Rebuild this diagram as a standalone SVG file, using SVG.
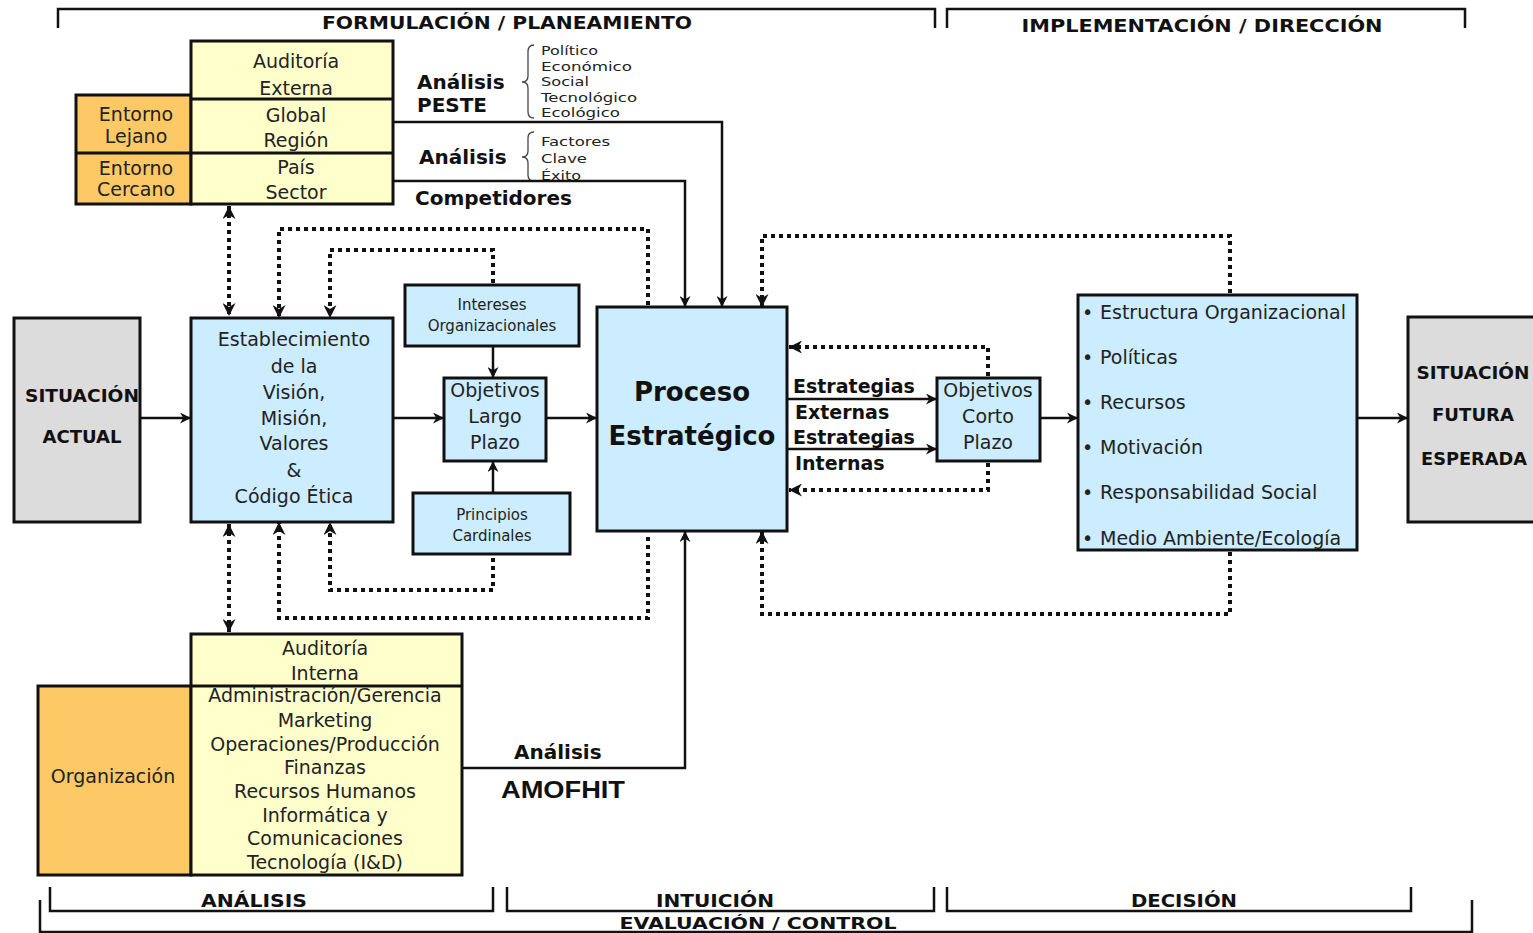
<svg xmlns="http://www.w3.org/2000/svg" width="1533" height="933" viewBox="0 0 1533 933">
<defs>
<style>
.box{stroke:#111;stroke-width:3}
.yel{fill:#FFFFCC}
.org{fill:#FDC966}
.blu{fill:#CCECFF}
.gry{fill:#DCDCDC}
.t{font-family:"DejaVu Sans",Verdana,sans-serif;font-size:19px;fill:#222;text-anchor:middle}
.ts{font-family:"DejaVu Sans",Verdana,sans-serif;font-size:15px;fill:#222;text-anchor:middle}
.tb{font-family:"DejaVu Sans",Verdana,sans-serif;font-weight:bold;font-size:20px;fill:#111}
.hd{font-family:"DejaVu Sans",Verdana,sans-serif;font-weight:bold;font-size:18px;fill:#111;text-anchor:middle}
.sm{font-family:"DejaVu Sans",Verdana,sans-serif;font-size:13px;fill:#222}
.br{fill:none;stroke:#111;stroke-width:2.5}
.sol{fill:none;stroke:#111;stroke-width:2.5}
.dot{fill:none;stroke:#111;stroke-width:4;stroke-dasharray:4 4}
.brace{fill:none;stroke:#444;stroke-width:1.3}
</style>
<marker id="ah" viewBox="0 0 10 10" refX="10" refY="5" markerWidth="11" markerHeight="11" markerUnits="userSpaceOnUse" orient="auto-start-reverse">
<path d="M0,0 L10,5 L0,10 L3,5 z" fill="#111"/>
</marker>
<marker id="ad" viewBox="0 0 10 10" refX="10" refY="5" markerWidth="13" markerHeight="13" markerUnits="userSpaceOnUse" orient="auto-start-reverse">
<path d="M0,0 L10,5 L0,10 L3,5 z" fill="#111"/>
</marker>
</defs>
<rect width="1533" height="933" fill="#fff"/>

<g id="brackets">
<path class="br" d="M58,28 V9 H935 V28"/>
<text class="hd" x="507" y="29" textLength="370" lengthAdjust="spacingAndGlyphs">FORMULACIÓN  / PLANEAMIENTO</text>
<path class="br" d="M947,28 V9 H1465 V28"/>
<text class="hd" x="1202" y="32" textLength="361" lengthAdjust="spacingAndGlyphs">IMPLEMENTACIÓN  / DIRECCIÓN</text>
<path class="br" d="M50,887 V911 H493 V887"/>
<text class="hd" x="254" y="907" textLength="106" lengthAdjust="spacingAndGlyphs">ANÁLISIS</text>
<path class="br" d="M507,887 V911 H934 V887"/>
<text class="hd" x="715" y="907" textLength="118" lengthAdjust="spacingAndGlyphs">INTUICIÓN</text>
<path class="br" d="M947,887 V911 H1411 V887"/>
<text class="hd" x="1184" y="907" textLength="106" lengthAdjust="spacingAndGlyphs">DECISIÓN</text>
<path class="br" d="M40,900 V932 H1472 V900"/>
<text class="hd" x="758" y="929" textLength="277" lengthAdjust="spacingAndGlyphs" style="font-size:16px">EVALUACIÓN  / CONTROL</text>
</g>

<g id="auditoria-externa">
<rect class="box org" x="76" y="95" width="115" height="109"/>
<line class="box" x1="76" y1="153" x2="191" y2="153"/>
<rect class="box yel" x="191" y="41" width="202" height="163"/>
<line class="box" x1="191" y1="99" x2="393" y2="99"/>
<line class="box" x1="191" y1="153" x2="393" y2="153"/>
<text class="t" x="136" y="121">Entorno</text>
<text class="t" x="136" y="143">Lejano</text>
<text class="t" x="136" y="175">Entorno</text>
<text class="t" x="136" y="196">Cercano</text>
<text class="t" x="296" y="68">Auditoría</text>
<text class="t" x="296" y="95">Externa</text>
<text class="t" x="296" y="122">Global</text>
<text class="t" x="296" y="147">Región</text>
<text class="t" x="296" y="174">País</text>
<text class="t" x="296" y="199">Sector</text>
</g>

<g id="peste">
<text class="tb" x="417" y="89">Análisis</text>
<text class="tb" x="417" y="112">PESTE</text>
<path class="brace" d="M534,45 Q528,45 528,52 V76 Q528,82 522,82 Q528,82 528,88 V112 Q528,118 534,118"/>
<text class="sm" x="541" y="55" textLength="57" lengthAdjust="spacingAndGlyphs">Político</text>
<text class="sm" x="541" y="71" textLength="91" lengthAdjust="spacingAndGlyphs">Económico</text>
<text class="sm" x="541" y="86" textLength="48" lengthAdjust="spacingAndGlyphs">Social</text>
<text class="sm" x="541" y="102" textLength="96" lengthAdjust="spacingAndGlyphs">Tecnológico</text>
<text class="sm" x="541" y="117" textLength="79" lengthAdjust="spacingAndGlyphs">Ecológico</text>
<text class="tb" x="419" y="164">Análisis</text>
<path class="brace" d="M534,132 Q528,132 528,138 V151 Q528,157 522,157 Q528,157 528,163 V175 Q528,181 534,181"/>
<text class="sm" x="541" y="146" textLength="69" lengthAdjust="spacingAndGlyphs">Factores</text>
<text class="sm" x="541" y="163" textLength="46" lengthAdjust="spacingAndGlyphs">Clave</text>
<text class="sm" x="541" y="180" textLength="40" lengthAdjust="spacingAndGlyphs">Éxito</text>
<text class="tb" x="415" y="205">Competidores</text>
</g>

<g id="situacion-actual">
<rect class="box gry" x="14" y="318" width="126" height="204"/>
<text class="hd" x="82" y="402" textLength="114" lengthAdjust="spacingAndGlyphs" style="font-size:17px">SITUACIÓN</text>
<text class="hd" x="82" y="443" textLength="79" lengthAdjust="spacingAndGlyphs" style="font-size:17px">ACTUAL</text>
</g>

<g id="vision">
<rect class="box blu" x="191" y="318" width="202" height="204"/>
<text class="t" x="294" y="346">Establecimiento</text>
<text class="t" x="294" y="373">de  la</text>
<text class="t" x="294" y="399">Visión,</text>
<text class="t" x="294" y="425">Misión,</text>
<text class="t" x="294" y="450">Valores</text>
<text class="t" x="294" y="477">&amp;</text>
<text class="t" x="294" y="503">Código  Ética</text>
</g>

<g id="intereses">
<rect class="box blu" x="405" y="285" width="174" height="61"/>
<text class="ts" x="492" y="310">Intereses</text>
<text class="ts" x="492" y="331">Organizacionales</text>
</g>

<g id="objetivos-lp">
<rect class="box blu" x="444" y="378" width="102" height="83"/>
<text class="t" x="495" y="397">Objetivos</text>
<text class="t" x="495" y="423">Largo</text>
<text class="t" x="495" y="449">Plazo</text>
</g>

<g id="principios">
<rect class="box blu" x="413" y="493" width="157" height="61"/>
<text class="ts" x="492" y="520">Principios</text>
<text class="ts" x="492" y="541">Cardinales</text>
</g>

<g id="proceso">
<rect class="box blu" x="597" y="307" width="190" height="224"/>
<text class="tb" x="692" y="401" style="font-size:26px;text-anchor:middle">Proceso</text>
<text class="tb" x="692" y="445" style="font-size:26px;text-anchor:middle">Estratégico</text>
</g>

<g id="objetivos-cp">
<rect class="box blu" x="937" y="378" width="103" height="83"/>
<text class="t" x="988" y="397">Objetivos</text>
<text class="t" x="988" y="423">Corto</text>
<text class="t" x="988" y="449">Plazo</text>
</g>

<g id="implementacion">
<rect class="box blu" x="1078" y="295" width="279" height="255"/>
<g class="t">
<text x="1082" y="319" style="text-anchor:start">•</text><text x="1100" y="319" style="text-anchor:start">Estructura Organizacional</text>
<text x="1082" y="364" style="text-anchor:start">•</text><text x="1100" y="364" style="text-anchor:start">Políticas</text>
<text x="1082" y="409" style="text-anchor:start">•</text><text x="1100" y="409" style="text-anchor:start">Recursos</text>
<text x="1082" y="454" style="text-anchor:start">•</text><text x="1100" y="454" style="text-anchor:start">Motivación</text>
<text x="1082" y="499" style="text-anchor:start">•</text><text x="1100" y="499" style="text-anchor:start">Responsabilidad  Social</text>
<text x="1082" y="545" style="text-anchor:start">•</text><text x="1100" y="545" style="text-anchor:start">Medio  Ambiente/Ecología</text>
</g>
</g>

<g id="situacion-futura">
<rect class="box gry" x="1408" y="317" width="135" height="205"/>
<text class="hd" x="1473" y="379" textLength="113" lengthAdjust="spacingAndGlyphs" style="font-size:17px">SITUACIÓN</text>
<text class="hd" x="1473" y="421" textLength="82" lengthAdjust="spacingAndGlyphs" style="font-size:17px">FUTURA</text>
<text class="hd" x="1474" y="465" textLength="106" lengthAdjust="spacingAndGlyphs" style="font-size:17px">ESPERADA</text>
</g>

<g id="auditoria-interna">
<rect class="box org" x="38" y="686" width="153" height="189"/>
<rect class="box yel" x="191" y="634" width="271" height="241"/>
<line class="box" x1="191" y1="686" x2="462" y2="686"/>
<text class="t" x="113" y="783">Organización</text>
<text class="t" x="325" y="655">Auditoría</text>
<text class="t" x="325" y="680">Interna</text>
<text class="t" x="325" y="702">Administración/Gerencia</text>
<text class="t" x="325" y="727">Marketing</text>
<text class="t" x="325" y="751">Operaciones/Producción</text>
<text class="t" x="325" y="774">Finanzas</text>
<text class="t" x="325" y="798">Recursos Humanos</text>
<text class="t" x="325" y="822">Informática  y</text>
<text class="t" x="325" y="845">Comunicaciones</text>
<text class="t" x="325" y="869">Tecnología (I&amp;D)</text>
</g>

<g id="connectors">
<path class="sol" d="M140,418 H191" marker-end="url(#ah)"/>
<path class="sol" d="M393,418 H444" marker-end="url(#ah)"/>
<path class="sol" d="M546,418 H597" marker-end="url(#ah)"/>
<path class="sol" d="M493,346 V378" marker-end="url(#ah)"/>
<path class="sol" d="M493,493 V461" marker-end="url(#ah)"/>
<path class="sol" d="M393,122 H722 V307" marker-end="url(#ah)"/>
<path class="sol" d="M393,181 H685 V307" marker-end="url(#ah)"/>
<path class="sol" d="M463,768 H685 V531" marker-end="url(#ah)"/>
<path class="sol" d="M787,399 H937" marker-end="url(#ah)"/>
<path class="sol" d="M787,449 H937" marker-end="url(#ah)"/>
<path class="sol" d="M1040,418 H1078" marker-end="url(#ah)"/>
<path class="sol" d="M1357,418 H1408" marker-end="url(#ah)"/>

<path class="dot" d="M229,206 V316" marker-start="url(#ad)" marker-end="url(#ad)"/>
<path class="dot" d="M648,305 V229 H279 V318" marker-end="url(#ad)"/>
<path class="dot" d="M493,283 V250 H330 V318" marker-end="url(#ad)"/>
<path class="dot" d="M229,524 V632" marker-start="url(#ad)" marker-end="url(#ad)"/>
<path class="dot" d="M648,537 V618 H279 V522" marker-end="url(#ad)"/>
<path class="dot" d="M493,558 V590 H330 V522" marker-end="url(#ad)"/>
<path class="dot" d="M988,376 V347 H789" marker-end="url(#ad)"/>
<path class="dot" d="M988,463 V490 H789" marker-end="url(#ad)"/>
<path class="dot" d="M1230,293 V236 H762 V307" marker-end="url(#ad)"/>
<path class="dot" d="M1230,552 V614 H762 V531" marker-end="url(#ad)"/>

<text class="tb" x="793" y="393" style="font-size:19px">Estrategias</text>
<text class="tb" x="795" y="419" style="font-size:19px">Externas</text>
<text class="tb" x="793" y="444" style="font-size:19px">Estrategias</text>
<text class="tb" x="795" y="470" style="font-size:19px">Internas</text>
<text class="tb" x="514" y="759">Análisis</text>
<text x="501" y="798" font-family="'Liberation Sans',Arial,sans-serif" font-weight="bold" font-size="24" fill="#111" textLength="124" lengthAdjust="spacingAndGlyphs">AMOFHIT</text>
</g>
</svg>
